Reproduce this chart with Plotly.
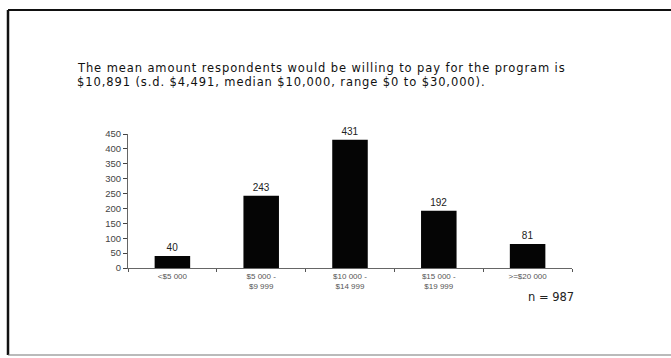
import plotly.graph_objects as go

categories = ["<$5 000", "$5 000 -<br>$9 999", "$10 000 -<br>$14 999", "$15 000 -<br>$19 999", ">=$20 000"]
counts = [40, 243, 431, 192, 81]
y_ticks = [0, 50, 100, 150, 200, 250, 300, 350, 400, 450]
title_lines = ["The mean amount respondents would be willing to pay for the program is",
               "$10,891 (s.d. $4,491, median $10,000, range $0 to $30,000)."]
n_text = "n = 987"

W, H = 671, 358
L, R, T, B = 128, 99, 134, 90
pw, ph = W - L - R, H - T - B

def px(x):
    return (x - L) / pw

def py(y):
    return (H - B - y) / ph

fig = go.Figure(go.Bar(
    x=categories, y=counts, width=0.4,
    marker=dict(color="#050505", line=dict(width=0)),
    text=[str(c) for c in counts], textposition="outside",
    textfont=dict(size=10, color="#222", family="Liberation Sans, Arial, sans-serif"),
    cliponaxis=False,
))

fig.update_layout(
    width=W, height=H,
    margin=dict(l=L, r=R, t=T, b=B),
    paper_bgcolor="white", plot_bgcolor="white",
    showlegend=False,
    font=dict(family="Liberation Sans, Arial, sans-serif"),
    xaxis=dict(
        type="category", showgrid=False, zeroline=False,
        showline=True, linecolor="#666", linewidth=1,
        ticks="outside", tickson="boundaries", ticklen=3, tickcolor="#555",
        tickfont=dict(size=8, color="#555"),
    ),
    yaxis=dict(
        range=[0, 450], tickvals=y_ticks, showgrid=False, zeroline=False,
        showline=True, linecolor="#666", linewidth=1,
        ticks="outside", ticklen=4, tickcolor="#444", ticksuffix="\u00a0\u00a0\u00a0",
        tickfont=dict(size=9.5, color="#444"),
    ),
)

for i, line in enumerate(title_lines):
    fig.add_annotation(
        text='<span style="letter-spacing:0.9px">' + line + '</span>',
        xref="paper", yref="paper",
        x=px(75), y=py(68 + 13.5 * i), xanchor="left", yanchor="middle", align="left",
        showarrow=False,
        font=dict(size=11.5, color="#111", family="DejaVu Sans, Verdana, sans-serif"),
    )
fig.add_annotation(
    text=n_text, xref="paper", yref="paper",
    x=px(576), y=py(297), xanchor="right", yanchor="middle",
    showarrow=False, font=dict(size=11.5, color="#222", family="DejaVu Sans, Verdana, sans-serif"),
)

# frame
frame = dict(xref="paper", yref="paper", type="line")
fig.add_shape(**frame, x0=px(8), x1=px(680), y0=py(10), y1=py(10), line=dict(color="#111", width=2))
fig.add_shape(**frame, x0=px(8), x1=px(8), y0=py(10), y1=py(355), line=dict(color="#111", width=2.5))
fig.add_shape(**frame, x0=px(8), x1=px(680), y0=py(355), y1=py(355), line=dict(color="#777", width=1.2))

fig.write_html(
    "out.html",
    config={"displayModeBar": False},
    post_script="document.body.style.margin='0';document.body.style.overflow='hidden';",
)
